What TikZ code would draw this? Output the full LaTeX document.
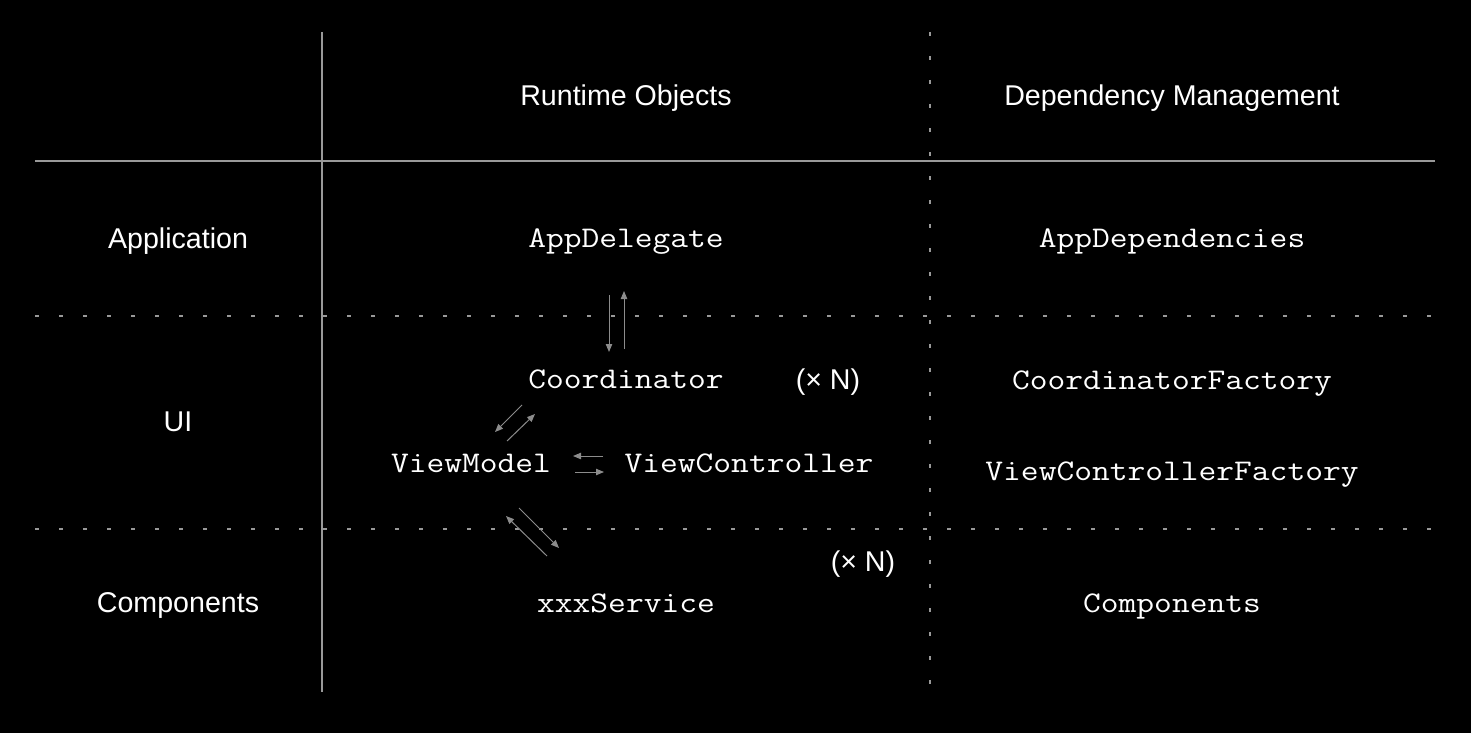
\documentclass[tikz,border=0pt]{standalone}
\usepackage{fontspec}
\setmainfont{Liberation Sans}
\setmonofont{Latin Modern Mono}[FakeStretch=1.15]
\usetikzlibrary{arrows.meta}
\begin{document}
\begin{tikzpicture}[x=0.5pt,y=-0.5pt,
    head/.style={text=white,anchor=base,font=\fontsize{14.3}{17}\selectfont},
    cls/.style={text=white,anchor=base,font=\ttfamily\fontsize{15}{17}\selectfont},
    rule/.style={draw=gray!80,line width=0.65pt},
    band/.style={draw=gray!80,line width=0.8pt,dash pattern=on 2pt off 10pt},
    arr/.style={draw=gray!90,line width=0.5pt,-{Triangle[length=4pt,width=3.2pt]}}]
  \fill[black] (0,0) rectangle (1471,733);
  % grid
  \draw[rule] (35,161) -- (1435,161);
  \draw[rule] (322,32) -- (322,692);
  \draw[band] (35,316) -- (1435,316);
  \draw[band] (35,529) -- (1435,529);
  \draw[band] (930,32) -- (930,690);
  % headings
  \node[head] (rto) at (626,105) {Runtime Objects};
  \node[head] (dpm) at (1172,105) {Dependency Management};
  \node[head] (app) at (178,248) {Application};
  \node[head] (ui) at (178,431) {UI};
  \node[head] (cmp) at (178,612) {Components};
  % runtime objects
  \node[cls] (dlg) at (626,247) {AppDelegate};
  \node[cls] (crd) at (626,388) {Coordinator};
  \node[head] (ncrd) at (828,389) {(× N)};
  \node[cls] (vm) at (471,472) {ViewModel};
  \node[cls] (vc) at (749,472) {ViewController};
  \node[head] (nsrv) at (863,571) {(× N)};
  \node[cls] (srv) at (626,612) {xxxService};
  % dependency management
  \node[cls] (adp) at (1172,247) {AppDependencies};
  \node[cls] (cfy) at (1172,389) {CoordinatorFactory};
  \node[cls] (vfy) at (1172,480) {ViewControllerFactory};
  \node[cls] (cps) at (1172,612) {Components};
  % arrows
  \draw[arr] ([shift={(-17,48)}]dlg.base) -- ([shift={(-17,-36)}]crd.base);
  \draw[arr] ([shift={(-2,-39)}]crd.base) -- ([shift={(-2,44)}]dlg.base);
  \draw[arr] ([shift={(-104,17)}]crd.base) -- ([shift={(24,-40)}]vm.base);
  \draw[arr] ([shift={(36,-31)}]vm.base) -- ([shift={(-91,26)}]crd.base);
  \draw[arr] ([shift={(-146,-16)}]vc.base) -- ([shift={(102,-16)}]vm.base);
  \draw[arr] ([shift={(104,0)}]vm.base) -- ([shift={(-145,0)}]vc.base);
  \draw[arr] ([shift={(-79,-56)}]srv.base) -- ([shift={(35,44)}]vm.base);
  \draw[arr] ([shift={(48,36)}]vm.base) -- ([shift={(-67,-64)}]srv.base);
\end{tikzpicture}
\end{document}
